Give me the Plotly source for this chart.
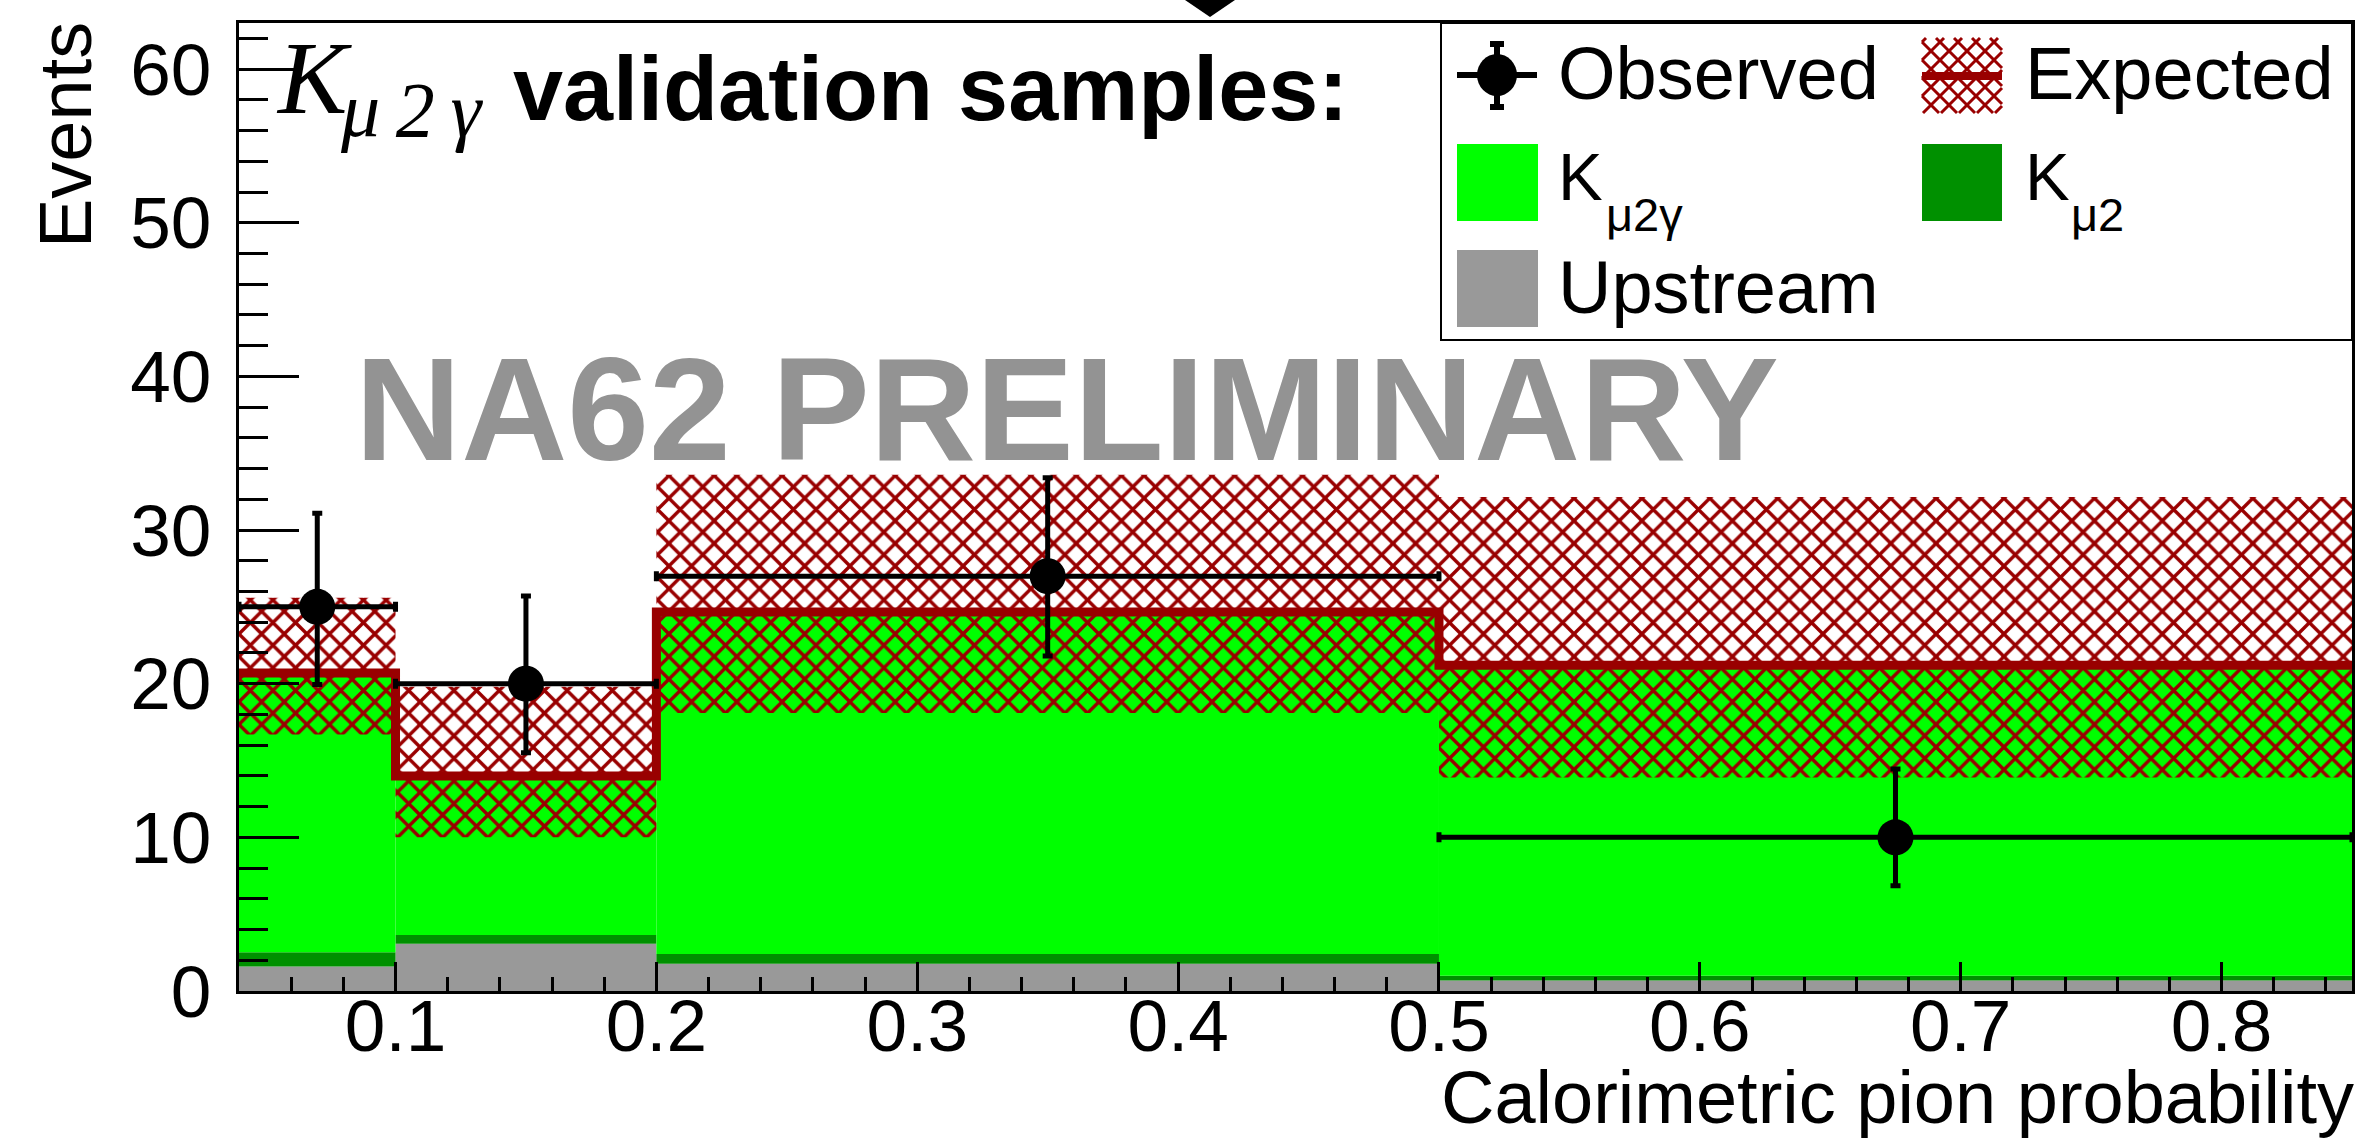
import numpy as np
import plotly.graph_objects as go

# ---------------- data ----------------
bin_edges = [0.04, 0.10, 0.20, 0.50, 0.85]
upstream = [1.60, 3.07, 1.77, 0.68]
kmu2 = [0.93, 0.57, 0.63, 0.31]
kmu2gamma = [18.17, 10.36, 22.26, 20.21]
expected_lo = [16.7, 10.0, 18.1, 13.9]
expected_hi = [25.6, 19.8, 33.6, 32.15]
observed = [25, 20, 27, 10]
observed_lo = [19.95, 15.5, 21.8, 6.85]
observed_hi = [31.1, 25.7, 33.4, 14.45]
x_tick_vals = [0.1, 0.2, 0.3, 0.4, 0.5, 0.6, 0.7, 0.8]
x_tick_text = ["0.1", "0.2", "0.3", "0.4", "0.5", "0.6", "0.7", "0.8"]

# ---------------- derived ----------------
edges = np.array(bin_edges)
centers = (edges[:-1] + edges[1:]) / 2
widths = np.diff(edges)
up = np.array(upstream)
k2 = np.array(kmu2)
k2g = np.array(kmu2gamma)
total = up + k2 + k2g
elo = np.array(expected_lo)
ehi = np.array(expected_hi)
obs = np.array(observed, dtype=float)
olo = np.array(observed_lo)
ohi = np.array(observed_hi)

C_UP = "#999999"
C_K2 = "#009000"
C_K2G = "#00ff00"
C_RED = "#990000"
SANS = "Liberation Sans, Arial, Helvetica, sans-serif"
SERIF = "Liberation Serif, Times New Roman, serif"

fig = go.Figure()
fig.add_bar(x=centers, y=up, base=0, width=widths, name="Upstream",
            marker=dict(color=C_UP, line=dict(width=0)), opacity=1)
fig.add_bar(x=centers, y=k2, base=up, width=widths, name="Kμ2",
            marker=dict(color=C_K2, line=dict(width=0)), opacity=1)
fig.add_bar(x=centers, y=k2g, base=up + k2, width=widths, name="Kμ2γ",
            marker=dict(color=C_K2G, line=dict(width=0)), opacity=1)
fig.add_bar(x=centers, y=ehi - elo, base=elo, width=widths, name="Expected band",
            marker=dict(color=C_RED, line=dict(width=0),
                        pattern=dict(shape="x", size=16, solidity=0.38,
                                     fillmode="replace", fgopacity=1)),
            opacity=1)
fig.add_scatter(x=edges, y=np.append(total, total[-1]), mode="lines", name="Expected",
                line=dict(shape="hv", color=C_RED, width=9))
fig.add_scatter(x=centers, y=obs, mode="markers", name="Observed",
                marker=dict(size=36, color="black"),
                error_x=dict(type="data", array=widths / 2, color="black",
                             thickness=5, width=5),
                error_y=dict(type="data", symmetric=False, array=ohi - obs,
                             arrayminus=obs - olo, color="black", thickness=5, width=5))

W, H = 2370, 1141
L, R, T, B = 239, 18, 23, 150
PW, PH = W - L - R, H - T - B


def px(x):
    return (x - L) / PW


def py(y):
    return (H - B - y) / PH


fig.update_layout(
    width=W, height=H, autosize=False,
    margin=dict(l=L, r=R, t=T, b=B, pad=0),
    paper_bgcolor="white", plot_bgcolor="white",
    barmode="overlay", showlegend=False,
    font=dict(family=SANS, color="black"),
)
fig.update_xaxes(range=[bin_edges[0], bin_edges[-1]], showgrid=False, zeroline=False,
                 showline=True, linecolor="black", linewidth=3, mirror=True,
                 ticks="inside", ticklen=29, tickwidth=3, tickcolor="black",
                 tickvals=x_tick_vals, ticktext=x_tick_text,
                 tickfont=dict(size=73, family=SANS, color="black"),
                 ticklabelstandoff=-31,
                 minor=dict(ticks="inside", ticklen=14, tickwidth=3, tickcolor="black",
                            dtick=0.02, tick0=0, showgrid=False))
fig.update_yaxes(range=[0, 63], showgrid=False, zeroline=False,
                 showline=True, linecolor="black", linewidth=3, mirror=True,
                 ticks="inside", ticklen=60, tickwidth=3, tickcolor="black",
                 dtick=10, tick0=0,
                 tickfont=dict(size=73, family=SANS, color="black"),
                 ticklabelstandoff=10,
                 minor=dict(ticks="inside", ticklen=29, tickwidth=3, tickcolor="black",
                            dtick=2, tick0=0, showgrid=False))

shapes = []
ann = []


def rect(x0, y0, x1, y1, fill, line_color=None, lw=0):
    shapes.append(dict(type="rect", xref="paper", yref="paper", layer="above",
                       x0=px(x0), x1=px(x1), y0=py(y1), y1=py(y0), fillcolor=fill,
                       line=dict(color=line_color or fill, width=lw)))


def seg(x0, y0, x1, y1, color, lw):
    shapes.append(dict(type="line", xref="paper", yref="paper", layer="above",
                       x0=px(x0), x1=px(x1), y0=py(y0), y1=py(y1),
                       line=dict(color=color, width=lw)))


def text(s, x, y, size, xanchor="left", family=SANS, color="black", angle=0):
    ann.append(dict(text=s, xref="paper", yref="paper", x=px(x), y=py(y),
                    xanchor=xanchor, yanchor="middle", showarrow=False,
                    textangle=angle, font=dict(size=size, family=family, color=color)))


# legend box
rect(1441, 23, 2352, 340, "white", "black", 2)
# Observed symbol
seg(1457, 75, 1537, 75, "black", 6)
seg(1497, 43, 1497, 108, "black", 6)
seg(1490, 44, 1504, 44, "black", 6)
seg(1490, 107, 1504, 107, "black", 6)
shapes.append(dict(type="circle", xref="paper", yref="paper", layer="above",
                   x0=px(1477), x1=px(1517), y0=py(96), y1=py(54),
                   fillcolor="black", line=dict(color="black", width=0)))
# Expected swatch: hatch clipped to box
hx0, hy0, hx1, hy1 = 1922, 38, 2002, 113


def clip_line(slope, c):
    pts = []
    for x in (hx0, hx1):
        y = slope * x + c
        if hy0 <= y <= hy1:
            pts.append((x, y))
    for y in (hy0, hy1):
        x = (y - c) / slope
        if hx0 <= x <= hx1:
            pts.append((x, y))
    if len(pts) < 2:
        return None
    pts.sort()
    return pts[0], pts[-1]


for slope in (1, -1):
    for k in range(-20, 20):
        c = (hy0 - slope * hx0) + k * 18 + 4
        r = clip_line(slope, c)
        if r and abs(r[0][0] - r[1][0]) > 1:
            seg(r[0][0], r[0][1], r[1][0], r[1][1], C_RED, 3)
seg(hx0, 76, hx1, 76, C_RED, 8)
# colour swatches
rect(1457, 144, 1538, 221, C_K2G)
rect(1922, 144, 2002, 221, C_K2)
rect(1457, 250, 1538, 327, C_UP)

text("Observed", 1556, 74, 74)
text("Expected", 2023, 74, 74)
text("K", 1556, 176, 67)
text("μ2γ", 1604, 214, 47)
text("K", 2023, 176, 67)
text("μ2", 2069, 214, 47)
text("Upstream", 1556, 287, 74)

# title
text("<i>K</i>", 274, 78, 104, family=SERIF)
text("<i>μ\u20092\u2009γ</i>", 338, 110, 78, family=SERIF)
text("<b>validation samples:</b>", 511, 89, 90)
# watermark
text("<b>NA62 PRELIMINARY</b>", 353, 409, 147, color="#939393")
# axis titles
text("Calorimetric pion probability", 2356, 1097, 74, xanchor="right")
text("Events", 66, 135, 74, xanchor="center", angle=-90)

# slide pointer triangle at the top edge
shapes.append(dict(type="path", xref="paper", yref="paper", layer="above",
                   path=f"M {px(1185)},{py(0)} L {px(1235)},{py(0)} L {px(1210)},{py(17)} Z",
                   fillcolor="black", line=dict(color="black", width=0)))

fig.update_layout(shapes=shapes, annotations=ann)

fig.write_html("out.html", config={"displayModeBar": False},
               post_script="document.body.style.margin='0';document.body.style.overflow='hidden';")
